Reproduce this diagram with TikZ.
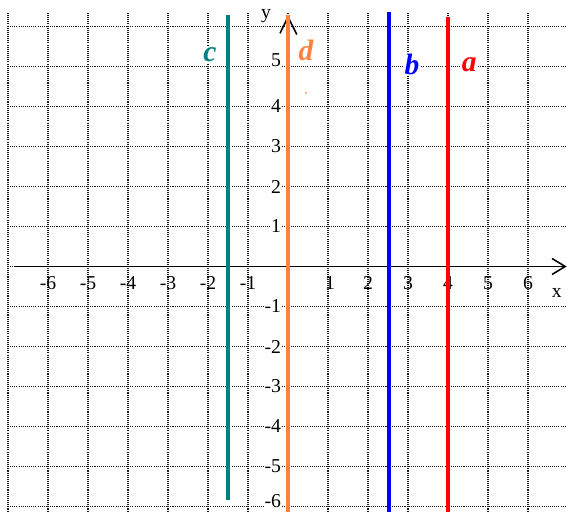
\documentclass[tikz,border=0pt]{standalone}
\usepackage{fontspec}
\setmainfont{Liberation Serif}
\definecolor{cteal}{RGB}{0,128,128}
\definecolor{corange}{RGB}{255,128,64}
\definecolor{cblue}{RGB}{0,0,255}
\definecolor{cred}{RGB}{255,0,0}
\begin{document}
\begin{tikzpicture}[
  gridline/.style={draw=black!90, line width=0.8pt, dash pattern=on 0.75pt off 0.75pt},
  axisline/.style={draw=black, line width=1.1pt},
  chev/.style={draw=black, line width=1.1pt},
  vline/.style={line width=2.5pt},
  ticklab/.style={font=\fontsize{14}{16}\selectfont, inner sep=0.5pt},
  ylab/.style={ticklab, fill=white, anchor=east},
  linelab/.style={font=\fontsize{21}{23}\selectfont\bfseries\itshape, fill=white, inner sep=1pt}
]
\useasboundingbox (-7.2,-6.1375) rectangle (6.975,6.6625);
% grid
\foreach \x in {-7,...,6} \draw[gridline] (\x,6.34) -- (\x,-6.1375);
\foreach \y in {-6,...,6} \draw[gridline] (-7,\y) -- (6.975,\y);
% axes
\coordinate (xs) at (-6.83,0);
\coordinate (xe) at (6.93,0);
\coordinate (xa1) at (6.6,0.2);
\coordinate (xa2) at (6.6,-0.2);
\draw[axisline] (xs) -- (xe);
\draw[chev] (xa1) -- (xe) -- (xa2);
\coordinate (ys) at (0,-6.1375);
\coordinate (ye) at (0,6.24);
\coordinate (ya1) at (-0.2,5.83);
\coordinate (ya2) at (0.22,5.8);
\draw[axisline] (ys) -- (ye);
\draw[chev] (ya1) -- (ye) -- (ya2);
% x tick labels
\foreach \x in {-6,...,-1} \node[ticklab] (xl\x) at (\x,-0.41) {-\the\numexpr-\x\relax};
\node[ticklab] (xl1) at (1.05,-0.41) {1};
\foreach \x in {2,...,6} \node[ticklab] (xl\x) at (\x,-0.41) {\x};
\node[ticklab] (xlab) at (6.72,-0.66) {x};
% y tick labels
\node[ylab] (yl5) at (-0.15,5.15) {5};
\foreach \y in {1,...,4} \node[ylab] (yl\y) at (-0.15,\y) {\y};
\foreach \y in {-5,...,-1} \node[ylab] (ylm\y) at (-0.15,\y) {-\the\numexpr-\y\relax};
\node[ylab] (ylm-6) at (-0.15,-5.86) {-6};
\node[ticklab] (ylab) at (-0.55,6.26) {y};
% coloured vertical lines
\coordinate (ct) at (-1.5,6.29);
\coordinate (cb) at (-1.5,-5.84);
\coordinate (dt) at (0,6.29);
\coordinate (db) at (0,-6.1375);
\coordinate (bt) at (2.525,6.36);
\coordinate (bb) at (2.525,-6.1375);
\coordinate (at) at (4,6.24);
\coordinate (ab) at (4,-6.1375);
\draw[vline, cteal] (ct) -- (cb);
\draw[vline, corange] (dt) -- (db);
\draw[vline, cblue] (bt) -- (bb);
\draw[vline, cred] (at) -- (ab);
% line labels
\node[linelab, text=cteal] (lc) at (-1.95,5.29) {c};
\node[linelab, text=corange] (ld) at (0.45,5.39) {d};
\node[linelab, text=cblue] (lb) at (3.1,5.06) {b};
\node[linelab, text=cred] (la) at (4.53,5.04) {a};
\fill[corange] (0.45,4.34) circle (0.025);
\end{tikzpicture}
\end{document}
